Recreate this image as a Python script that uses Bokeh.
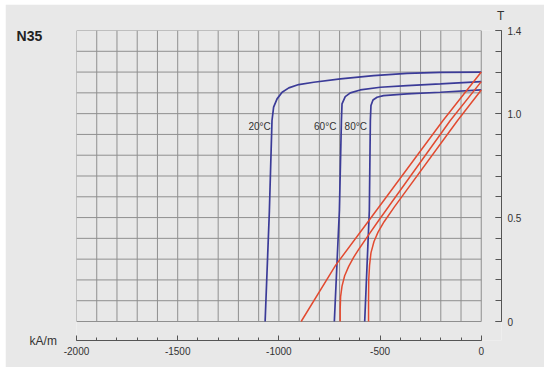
from bokeh.plotting import figure
from bokeh.models import FixedTicker, LinearAxis, Range1d, Label, CustomJSTickFormatter
from bokeh.core.properties import value
from bokeh.embed import file_html
from bokeh.resources import INLINE

# ---- data (H in kA/m, B/J in T) ----
# intrinsic (J) curves, blue
j20_h = [0, -202, -367, -532, -696, -828, -902, -951, -984, -1009, -1026, -1034, -1047, -1068]
j20_b = [1.200, 1.199, 1.194, 1.183, 1.167, 1.151, 1.140, 1.124, 1.103, 1.071, 1.031, 0.967, 0.530, 0.0]
j60_h = [0, -202, -367, -499, -598, -647, -672, -688, -691, -701, -726]
j60_b = [1.154, 1.143, 1.135, 1.127, 1.114, 1.100, 1.082, 1.047, 0.967, 0.534, 0.0]
j80_h = [0, -202, -367, -483, -515, -535, -545, -548, -553, -576]
j80_b = [1.114, 1.103, 1.095, 1.087, 1.079, 1.066, 1.039, 0.967, 0.534, 0.0]
# normal (B) curves, red
b20_h = [0, -189, -555, -720, -890]
b20_b = [1.200, 0.967, 0.486, 0.270, 0.0]
b60_h = [0, -153, -507, -565, -600, -630, -655, -675, -688, -695, -697, -697]
b60_b = [1.154, 0.967, 0.486, 0.405, 0.355, 0.310, 0.265, 0.220, 0.170, 0.120, 0.060, 0.0]
b80_h = [0, -117, -430, -480, -510, -530, -545, -552, -556, -557, -557]
b80_b = [1.114, 0.967, 0.550, 0.480, 0.430, 0.385, 0.330, 0.270, 0.200, 0.100, 0.0]

temps = ["20°C", "60°C", "80°C"]
temp_label_h = [-1040, -716, -565]
temp_label_b = [0.94, 0.94, 0.94]

x_major = [-2000, -1500, -1000, -500, 0]
x_minor = list(range(-2000, 1, 100))
y_major = [0, 0.5, 1.0, 1.4]
y_minor = [round(i * 0.1, 1) for i in range(15)]

BG = "#e8e8e8"
GRID = "#8f8f8f"
BLUE = "#3b3b98"
RED = "#e24a30"
FONT = "Liberation Sans"
TXT = "#333333"

p = figure(frame_width=425, frame_height=310,
           x_range=Range1d(-2000, 100), y_range=Range1d(-0.0914, 1.4),
           output_backend="svg", toolbar_location=None,
           x_axis_location=None, y_axis_location=None,
           min_border_left=71, min_border_right=43,
           min_border_top=26, min_border_bottom=27,
           margin=(4, 0, 0, 5))
p.grid.visible = False
p.background_fill_color = BG
p.border_fill_color = BG
p.outline_line_color = None

# grid
n = len(x_minor)
p.segment(x0=x_minor, y0=[y_minor[0]] * n, x1=x_minor, y1=[y_minor[-1]] * n,
          line_color=GRID, line_width=1)
m = len(y_minor)
p.segment(x0=[x_minor[0]] * m, y0=y_minor, x1=[x_minor[-1]] * m, y1=y_minor,
          line_color=GRID, line_width=1)

# curves
for hh, bb in [(j20_h, j20_b), (j60_h, j60_b), (j80_h, j80_b)]:
    p.line(hh, bb, line_color=BLUE, line_width=1.7)
for hh, bb in [(b20_h, b20_b), (b60_h, b60_b), (b80_h, b80_b)]:
    p.line(hh, bb, line_color=RED, line_width=1.5)

for t, xh, yb in zip(temps, temp_label_h, temp_label_b):
    p.add_layout(Label(x=xh, y=yb, text=t, text_align="right", text_baseline="middle",
                       text_font=FONT, text_font_size="10px", text_color=TXT))

# axes
xaxis = LinearAxis(ticker=FixedTicker(ticks=x_major, minor_ticks=x_minor),
                   bounds=(-2000, 0),
                   formatter=CustomJSTickFormatter(code="return tick.toString();"),
                   major_tick_in=5, major_tick_out=0, minor_tick_in=3, minor_tick_out=0,
                   major_label_standoff=6,
                   axis_line_color="#555555", major_tick_line_color="#555555",
                   minor_tick_line_color="#555555",
                   major_label_text_font=FONT, major_label_text_font_size="10px",
                   major_label_text_color=TXT)
p.add_layout(xaxis, "below")

yaxis = LinearAxis(ticker=FixedTicker(ticks=y_major, minor_ticks=y_minor),
                   bounds=(0, 1.4),
                   formatter=CustomJSTickFormatter(code="return tick == 0 ? '0' : tick.toFixed(1);"),
                   major_tick_in=6, major_tick_out=0, minor_tick_in=6, minor_tick_out=0,
                   major_label_standoff=6,
                   axis_line_color="#555555", major_tick_line_color="#555555",
                   minor_tick_line_color="#555555",
                   major_label_text_font=FONT, major_label_text_font_size="10px",
                   major_label_text_color=TXT)
p.add_layout(yaxis, "right")

# title and unit labels, outside the frame (overlay level so they are not clipped)
p.text(x=[-2296], y=[1.373], text=["N35"], level="overlay", text_align="left",
       text_baseline="middle", text_font=value(FONT), text_font_style="bold",
       text_font_size="14px", text_color="#222222")
p.text(x=[-2232], y=[-0.0914], text=["kA/m"], level="overlay", text_align="left",
       text_baseline="middle", text_font=value(FONT), text_font_size="12px",
       text_color=TXT)
p.text(x=[96], y=[1.472], text=["T"], level="overlay", text_align="center",
       text_baseline="middle", text_font=value(FONT), text_font_size="12px",
       text_color=TXT)

open("out.html", "w").write(file_html(p, INLINE))
